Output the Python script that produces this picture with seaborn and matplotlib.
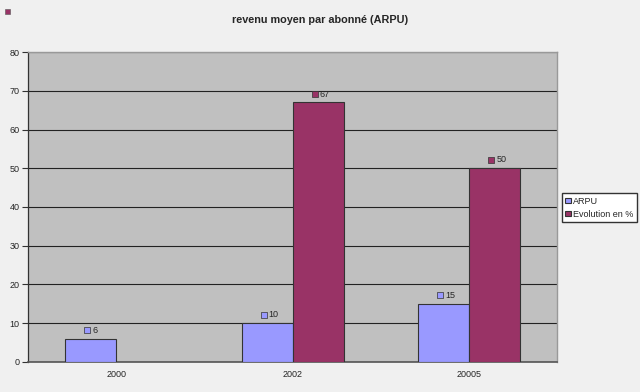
import numpy as np
import pandas as pd
import matplotlib
matplotlib.use("Agg")
import matplotlib.pyplot as plt
import matplotlib.transforms as mtransforms
import seaborn as sns

# data
years = ["2000", "2002", "20005"]
arpu = [6, 10, 15]
evolution = [None, 67, 50]
series = ["ARPU", "Evolution en %"]
colors = ["#9999ff", "#993366"]

rows = []
for y, a, e in zip(years, arpu, evolution):
    rows.append({"annee": y, "serie": series[0], "valeur": a})
    if e is not None:
        rows.append({"annee": y, "serie": series[1], "valeur": e})
df = pd.DataFrame(rows)

sns.set_style("white")
plt.rcParams['font.family'] = ['Liberation Sans', 'DejaVu Sans']

fig = plt.figure(figsize=(6.4, 3.92), dpi=100, facecolor="#f0f0f0")
ax = fig.add_axes([0.044, 0.077, 0.827, 0.79])
ax.set_facecolor("#c0c0c0")

sns.barplot(data=df, x="annee", y="valeur", hue="serie", order=years,
            hue_order=series, palette=colors, width=0.58, dodge=True,
            edgecolor="#333333", linewidth=0.8, saturation=1, ax=ax,
            zorder=3)

ax.set_ylim(0, 80)
ax.set_yticks(np.arange(0, 81, 10))
ax.yaxis.grid(True, color="#222222", linewidth=0.8, zorder=0)
ax.set_axisbelow(True)
ax.set_xlim(-0.5, len(years) - 0.5)
ax.set_xlabel("")
ax.set_ylabel("")

# ticks: labels at centres, tick marks at boundaries
ax.set_xticks(range(len(years)))
ax.set_xticklabels(years)
ax.set_xticks(np.arange(-0.5, len(years), 1), minor=True)
ax.tick_params(axis="x", which="major", length=0, labelsize=6.5, pad=6)
ax.tick_params(axis="x", which="minor", length=4, width=0.8, color="#333333",
               direction="out")
ax.tick_params(axis="y", length=4, width=0.8, color="#333333", labelsize=6.5,
               left=True, direction="out", pad=2)

for side in ["top", "right"]:
    ax.spines[side].set_color("#999999")
    ax.spines[side].set_linewidth(1)
ax.spines["left"].set_color("#333333")
ax.spines["bottom"].set_color("#555555")
ax.spines["left"].set_linewidth(0.9)
ax.spines["bottom"].set_linewidth(1.2)

# value labels with little coloured squares
for cont, col in zip(ax.containers, colors):
    for bar in cont:
        h = bar.get_height()
        if not np.isfinite(h) or h == 0:
            continue
        xc = bar.get_x() + bar.get_width() / 2
        tsq = mtransforms.offset_copy(ax.transData, fig=fig, x=-2.5, y=6,
                                      units="points")
        ax.scatter([xc], [h], marker="s", s=13, color=col, edgecolor="#333333",
                   linewidths=0.5, transform=tsq, zorder=5, clip_on=False)
        ax.annotate(f"{int(h)}", (xc, h), xytext=(1, 6),
                    textcoords="offset points", fontsize=6.5, va="center",
                    ha="left", zorder=5)

ax.legend(loc="upper left", bbox_to_anchor=(1.008, 0.545), fontsize=6.5,
          frameon=True, fancybox=False, edgecolor="#333333",
          facecolor="white", framealpha=1, handlelength=0.6,
          handleheight=0.6, handletextpad=0.3, borderpad=0.4,
          labelspacing=0.45, borderaxespad=0)

fig.text(0.5, 0.948, "revenu moyen par abonné (ARPU)", ha="center",
         va="center", fontsize=7.8, fontweight="bold")

# stray marker in the top left corner
fig.patches.append(plt.Rectangle((0.008, 0.965), 0.008, 0.013,
                                 transform=fig.transFigure, facecolor="#993366",
                                 edgecolor="#555555", linewidth=0.4))

fig.savefig("out.png", dpi=100, facecolor=fig.get_facecolor())
